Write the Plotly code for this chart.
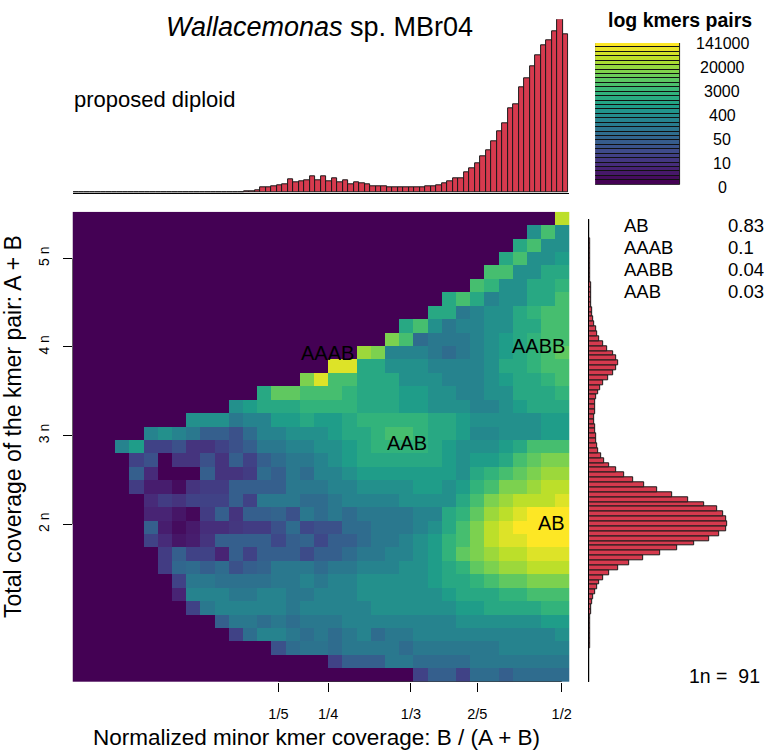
import numpy as np
import plotly.graph_objects as go
from plotly.colors import sample_colorscale

# ---------------- data ----------------
title_species = "Wallacemonas"
title_rest = " sp. MBr04"
ploidy_text = "proposed diploid"
n_coverage = 91

# smudge grid: 35 x 35 cells, rows listed top -> bottom, as (first non-empty column, colour levels 0..10)
smudge_rows = [
    (34, [9]),
    (32, [5, 7, 5]),
    (31, [6, 7, 5, 5]),
    (30, [6, 7, 5, 5, 5.5]),
    (29, [7, 7, 5, 5, 6, 6]),
    (28, [7, 6.5, 5, 5, 6, 6, 6.5]),
    (26, [6, 7, 6, 4.5, 5, 5, 6, 6, 7]),
    (25, [6, 6, 4, 4.5, 5, 5, 6, 6.5, 7, 7]),
    (23, [6, 7, 5, 4, 4.5, 4.5, 5, 5, 6, 6, 7, 7]),
    (22, [8, 7, 3.5, 4, 4, 4, 4.5, 5, 5.5, 6, 6.5, 7, 7]),
    (20, [8.5, 8, 4.5, 4.5, 4.5, 4, 3.5, 4, 4.5, 5, 5.5, 6, 6.5, 7, 7.5]),
    (18, [9.5, 9.5, 6, 6, 5, 5, 5, 4.5, 4.5, 4.5, 4.5, 5, 6, 6, 6.5, 7, 7]),
    (16, [8, 9.5, 7, 7, 6, 6, 6, 5, 5, 5, 4.5, 4.5, 4.5, 5, 5.5, 6, 6, 6.5, 7]),
    (13, [6, 7.5, 7.5, 7, 7, 7, 6.5, 6, 6, 6, 5.5, 5.5, 5, 5, 4.5, 4.5, 5, 5, 6, 6, 6, 6.5]),
    (11, [5, 5.5, 6, 6, 6, 6.5, 6.5, 6.5, 6.5, 6, 6, 6, 5.5, 5.5, 5, 5, 5, 4.5, 4.5, 5, 5.5, 6, 6, 6]),
    (8, [5, 5, 5, 4, 4.5, 4.5, 5.5, 5.5, 6, 5.5, 5.5, 6, 6.5, 6.5, 6.5, 6.5, 6.5, 6, 6, 5.5, 5, 5, 5, 5, 5, 5.5, 5.5]),
    (5, [4.5, 5, 4.5, 4, 3, 3, 2.5, 3.5, 4.5, 4.5, 5, 5, 5, 5.5, 6, 6, 6.5, 7, 7, 6.5, 6, 6, 5.5, 4.7, 4.7, 5, 5, 5, 5.5, 5.5]),
    (3, [4.5, 5.5, 2, 2, 2.5, 1.5, 1.5, 2, 2.5, 3, 4, 4, 4.5, 4.5, 5, 5, 5.5, 6, 6.5, 6.5, 6.5, 6.5, 6, 5.5, 5, 5, 5, 5.5, 6, 7, 7, 7]),
    (4, [2, 2.5, 0, 1.5, 1.5, 2.5, 1.5, 3, 2, 3, 3.5, 4, 4, 4.5, 5, 5.5, 6, 6, 6, 6, 6, 6, 5.5, 5, 5.5, 5.5, 6, 7, 7.5, 8, 8]),
    (4, [3, 1.2, 0, 0, 0, 3, 1.5, 1.5, 1.8, 3.5, 3, 4, 3.5, 4.5, 4.5, 5, 5.5, 5.5, 5.5, 5.5, 5.5, 5.5, 5.5, 5, 6, 6.5, 7, 7.5, 8, 8.5, 8.5]),
    (4, [1.8, 0.8, 0.8, 0.3, 1.5, 1.8, 1.8, 3, 3, 3, 3, 4, 4, 4, 4.5, 4.5, 5, 5, 5, 5, 5.5, 5.5, 5, 5.5, 6.5, 7, 8, 8, 8.5, 9, 9]),
    (5, [1.2, 1.8, 1.5, 2, 2, 2, 3, 2, 4, 4, 4, 3.5, 3.5, 4, 4.5, 4.5, 4.5, 4.5, 5, 5, 5, 5, 6, 7, 8, 8.5, 9, 9, 9, 9.5]),
    (5, [1, 1, 0.6, 0.2, 1.8, 3, 1.5, 3, 3, 3.2, 2.5, 4, 3.5, 4, 3.5, 4, 4, 4, 4, 4.5, 4.5, 6, 6.5, 7.5, 8.5, 9, 9.5, 10, 10, 10]),
    (5, [3, 0.8, 0.3, 0.7, 1.3, 1.3, 1.6, 1.8, 1.8, 2.5, 3.5, 2.2, 2.5, 2.5, 3.5, 3.5, 4, 4, 4, 4.5, 5, 6, 7, 8, 9, 9.5, 10, 10, 10, 10]),
    (5, [2, 1.2, 0.6, 0.8, 1.5, 3, 3, 3, 3, 2.2, 3, 3.2, 2.2, 3, 3, 3.5, 4, 4, 4.5, 5, 5.5, 6.5, 7, 8, 9, 9.5, 9.5, 10, 10, 10]),
    (6, [1.8, 3, 2, 2, 1, 3, 2, 3, 3, 3, 2.3, 3, 3, 3.5, 4, 4, 4.5, 4.5, 5, 5.5, 6.5, 7.5, 8, 8.5, 9, 9, 9.5, 9.5, 9.5]),
    (6, [1.8, 3.3, 3.5, 3, 3.5, 2.5, 3, 3.2, 4, 4, 4, 3.5, 4, 4, 4.5, 4.5, 4.5, 5, 5, 5.5, 6, 6.5, 7.5, 8, 8.5, 8.5, 9, 9, 9]),
    (7, [2, 4, 4, 3.7, 3.7, 3.7, 3.7, 4, 4, 4.5, 4, 4.5, 4.5, 5, 5, 5, 5, 5, 5.5, 6, 6, 6.5, 7, 7.5, 7.5, 8, 8, 8]),
    (7, [1, 4.5, 4.5, 4.5, 4, 4, 4.5, 4.5, 4, 4, 4.5, 4.5, 4.5, 5, 5, 5, 5, 5, 5, 5.5, 6, 6, 6, 6.5, 6.5, 7, 7, 7]),
    (8, [2, 4, 4.5, 4.5, 4.5, 4.5, 4.5, 4, 4.5, 4.5, 4.5, 4.5, 4.5, 5, 5, 5, 5, 5, 5, 5.5, 5.5, 6, 6, 6, 6, 6.5, 6.5]),
    (10, [3, 4, 4, 3.6, 4, 3.6, 4, 4, 4, 4.5, 4.5, 4.5, 4.5, 4.5, 4.5, 4.5, 4.5, 5, 5, 5, 5, 5, 5, 5.5, 5.5]),
    (11, [2, 3.6, 4.5, 4.5, 4, 3.6, 4, 3.5, 4, 4.5, 3.5, 4, 4, 4.5, 4.5, 4.5, 4.5, 4.5, 4.5, 4.5, 4.5, 4.5, 4.5, 5]),
    (14, [2.5, 3.5, 3.8, 3.8, 3.5, 4, 4, 4, 4, 3.5, 4, 4, 4, 4, 4, 4, 4.5, 4.5, 4.5, 4.5, 4.5]),
    (18, [2, 3, 3, 3, 4, 4, 3.5, 3.5, 3.5, 3.5, 4, 4, 4, 4, 4, 4, 4]),
    (24, [2, 3, 3, 2, 3.5, 3.5, 3, 3.5, 3.5, 3.5, 3.5]),
]
n_cols = 35
minor_bin = 1 / 70            # width of one minor-coverage column
cov_lo, cov_hi = 20.2, 502.8  # total coverage limits of the smudge grid

# top histogram: minor coverage (90 bins)
minor_hist = [0] * 20 + [0.5, 0.5, 0.5, 0.5, 1, 1, 1, 1, 1.5, 2, 2, 3, 4, 7,
              15, 15, 20, 22, 25, 40, 30, 33, 36, 50, 38, 48, 33, 43, 30, 38,
              25, 30, 27, 25, 18, 20, 18, 17, 17, 17, 15, 17, 15, 17, 20, 20,
              23, 28, 33, 43, 43, 60, 72, 88, 108, 128, 155, 185, 208, 252, 265,
              316, 343, 378, 412, 443, 458, 485, 520, 476]

# right histogram: total coverage, bins of 5 from 20
cov_bin_start, cov_bin_width = 20, 5
total_hist = [0.5, 0.5, 0.7, 0.8, 1, 1, 1.2, 1.5, 1.7, 2, 2.2, 2.5, 2.8, 3, 5, 7, 10, 13, 18, 23,
              30, 43, 61, 88, 120, 163, 215, 266, 315, 361, 391, 411, 415, 413, 403, 385, 345,
              298, 250, 205, 165, 133, 105, 80, 60, 46, 35, 28, 24, 21, 20, 18, 17, 16, 16, 17,
              18, 19, 21, 26, 33, 43, 56, 71, 81, 86, 80, 71, 55, 41, 31, 25, 21, 15, 12, 10,
              8, 7, 6, 5.5, 5, 4.5, 4, 3.5, 3, 3, 2.5, 2.2, 2, 1.8, 1.5, 1.2, 1, 0.8, 0.6]

x_tick_vals = [1 / 5, 1 / 4, 1 / 3, 2 / 5, 0.485]
x_tick_text = ["1/5", "1/4", "1/3", "2/5", "1/2"]
y_tick_mult = [2, 3, 4, 5]
y_tick_text = ["2 n", "3 n", "4 n", "5 n"]

smudge_labels = ["AB", "AAAB", "AABB", "AAB"]
smudge_label_x = [0.475, 0.249, 0.462, 0.329]
smudge_label_n = [2.01, 3.93, 4.01, 2.92]

summary_names = ["AB", "AAAB", "AABB", "AAB"]
summary_values = ["0.83", "0.1", "0.04", "0.03"]

legend_title = "log kmers pairs"
legend_stripes = 32
legend_labels = ["0", "10", "50", "400", "3000", "20000", "141000"]

# ---------------- build ----------------
W, H = 768, 750
FONT = "Liberation Sans, Arial, Helvetica, sans-serif"
BAR = "#d63a4e"


def fx(p):
    return p / W


def fy(p):
    return 1 - p / H


z = []
for start, vals in smudge_rows:
    assert start + len(vals) == n_cols
    z.append([0] * start + list(vals))
z = z[::-1]  # bottom -> top
x_cent = np.arange(n_cols) * minor_bin
y_edges = np.linspace(cov_lo, cov_hi, len(z) + 1)
y_cent = (y_edges[:-1] + y_edges[1:]) / 2

fig = go.Figure()
fig.add_trace(go.Heatmap(z=z, x=x_cent, y=y_cent, zmin=0, zmax=10, colorscale="Viridis",
                         showscale=False, hoverinfo="skip", xaxis="x", yaxis="y"))

x_lo = x_cent[0] - minor_bin / 2
x_hi = x_cent[-1] + minor_bin / 2
y_ticks = [m * n_coverage for m in y_tick_mult]
# R-style axis lines between first and last tick
fig.add_trace(go.Scatter(x=[x_tick_vals[0], x_tick_vals[-1]], y=[cov_lo, cov_lo], mode="lines",
                         line=dict(color="black", width=1), cliponaxis=False, hoverinfo="skip",
                         xaxis="x", yaxis="y", showlegend=False))
fig.add_trace(go.Scatter(x=[x_lo, x_lo], y=[y_ticks[0], y_ticks[-1]], mode="lines",
                         line=dict(color="black", width=1), cliponaxis=False, hoverinfo="skip",
                         xaxis="x", yaxis="y", showlegend=False))

# top histogram
fig.add_trace(go.Bar(x=np.arange(len(minor_hist)) + 0.5, y=minor_hist, width=1,
                     marker=dict(color=BAR, line=dict(color="#1a1a1a", width=1)),
                     xaxis="x2", yaxis="y2", hoverinfo="skip", showlegend=False))
# right histogram
cov_cent = cov_bin_start + cov_bin_width * (np.arange(len(total_hist)) + 0.5)
fig.add_trace(go.Bar(y=cov_cent, x=total_hist, width=cov_bin_width, orientation="h",
                     marker=dict(color=BAR, line=dict(color="#1a1a1a", width=1)),
                     xaxis="x3", yaxis="y3", hoverinfo="skip", showlegend=False))
# colour legend stripes
stripe_cols = sample_colorscale("Viridis", list(np.linspace(0, 1, legend_stripes)))
fig.add_trace(go.Bar(y=np.arange(legend_stripes) + 0.5, x=[1] * legend_stripes, width=1,
                     orientation="h", marker=dict(color=stripe_cols, line=dict(color="#111111", width=1)),
                     xaxis="x4", yaxis="y4", hoverinfo="skip", showlegend=False))

cov_top = cov_bin_start + cov_bin_width * len(total_hist)

fig.update_layout(
    width=W, height=H, margin=dict(l=0, r=0, t=0, b=0),
    paper_bgcolor="white", plot_bgcolor="white", showlegend=False, bargap=0,
    font=dict(family=FONT, color="black"),
    xaxis=dict(domain=[fx(72.7), fx(571)], range=[x_lo, x_hi], tickvals=x_tick_vals,
               ticktext=x_tick_text, ticks="outside", ticklen=9, tickcolor="black",
               tickfont=dict(size=14.5), ticklabelstandoff=10, showgrid=False, zeroline=False,
               showline=False, fixedrange=True),
    yaxis=dict(domain=[fy(682), fy(211.7)], range=[cov_lo, cov_hi], tickvals=y_ticks,
               ticktext=y_tick_text, ticks="outside", ticklen=9, tickcolor="black",
               tickangle=-90, tickfont=dict(size=14), ticklabelstandoff=8, showgrid=False,
               zeroline=False, showline=False, fixedrange=True),
    xaxis2=dict(domain=[fx(73.3), fx(570)], range=[0, len(minor_hist)], showticklabels=False,
                ticks="", showgrid=False, zeroline=False, showline=True, linecolor="black",
                linewidth=1, anchor="y2"),
    yaxis2=dict(domain=[fy(192.7), fy(19.3)], range=[0, max(minor_hist)], visible=False,
                anchor="x2"),
    xaxis3=dict(domain=[fx(590.7), 1.0], range=[0, 532], visible=False, anchor="y3"),
    yaxis3=dict(domain=[fy(682.1), fy(219.3)], range=[cov_bin_start, cov_top],
                showticklabels=False, ticks="", showgrid=False, zeroline=False,
                showline=True, linecolor="black", linewidth=1, anchor="x3"),
    xaxis4=dict(domain=[fx(596.7), fx(682.3)], range=[0, 1], visible=False, anchor="y4"),
    yaxis4=dict(domain=[fy(184.7), fy(43)], range=[0, legend_stripes], visible=False,
                anchor="x4"),
)

ann = []
ann.append(dict(text=f"<i>{title_species}</i>{title_rest}", x=fx(320), y=fy(27), xref="paper",
                yref="paper", showarrow=False, font=dict(size=27), xanchor="center", yanchor="middle"))
ann.append(dict(text=ploidy_text, x=fx(72), y=fy(100), xref="paper", yref="paper", showarrow=False,
                font=dict(size=22), xanchor="left", yanchor="middle"))
ann.append(dict(text=f"<b>{legend_title}</b>", x=fx(682), y=fy(20.5), xref="paper", yref="paper",
                showarrow=False, font=dict(size=19.5), xanchor="center", yanchor="middle"))
# legend labels evenly spaced from the bottom (0) to the top of the key
lab_top, lab_bot = 43.3, 187.7
for j, lab in enumerate(legend_labels):
    py = lab_bot - (lab_bot - lab_top) * j / (len(legend_labels) - 1)
    ann.append(dict(text=lab, x=fx(724), y=fy(py), xref="paper", yref="paper", showarrow=False,
                    font=dict(size=16), xanchor="center", yanchor="middle"))
for lab, lx, ln in zip(smudge_labels, smudge_label_x, smudge_label_n):
    ann.append(dict(text=lab, x=lx, y=ln * n_coverage, xref="x", yref="y", showarrow=False,
                    font=dict(size=20), xanchor="center", yanchor="middle"))
for i, (nm, vl) in enumerate(zip(summary_names, summary_values)):
    yy = fy(225 + 22.2 * i)
    ann.append(dict(text=nm, x=fx(624), y=yy, xref="paper", yref="paper", showarrow=False,
                    font=dict(size=18.5), xanchor="left", yanchor="middle"))
    ann.append(dict(text=vl, x=fx(728), y=yy, xref="paper", yref="paper", showarrow=False,
                    font=dict(size=18.5), xanchor="left", yanchor="middle"))
ann.append(dict(text=f"1n = \u00a0{n_coverage}", x=fx(764), y=fy(676), xref="paper", yref="paper",
                showarrow=False, font=dict(size=19.5), xanchor="right", yanchor="middle"))
ann.append(dict(text="Normalized minor kmer coverage: B / (A + B)", x=fx(317), y=fy(737),
                xref="paper", yref="paper", showarrow=False, font=dict(size=22.5),
                xanchor="center", yanchor="middle"))
ann.append(dict(text="Total coverage of the kmer pair: A + B", x=fx(13), y=fy(426),
                xref="paper", yref="paper", showarrow=False, font=dict(size=23), textangle=-90,
                xanchor="center", yanchor="middle"))
fig.update_layout(annotations=ann)

fig.write_html("out.html", config={"displayModeBar": False},
               post_script="document.body.style.margin='0';document.body.style.overflow='hidden';")
